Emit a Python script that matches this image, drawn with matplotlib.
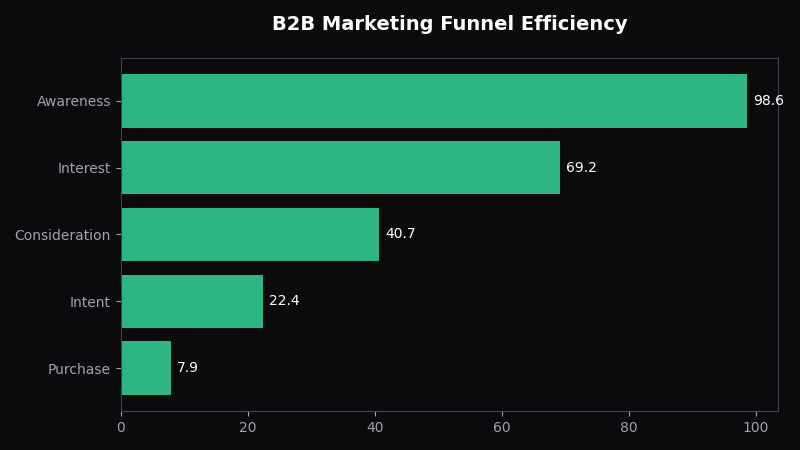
import matplotlib.pyplot as plt

stages = ['Awareness', 'Interest', 'Consideration', 'Intent', 'Purchase']
values = [98.6, 69.2, 40.7, 22.4, 7.9]

bg = '#0b0b0e'
fig, ax = plt.subplots(figsize=(8, 4.5), dpi=100)
fig.patch.set_facecolor(bg)
ax.set_facecolor(bg)

bars = ax.barh(stages, values, height=0.8, color='#2db684')
ax.invert_yaxis()

for b, v in zip(bars, values):
    ax.text(b.get_width() + 1, b.get_y() + b.get_height() / 2, f'{v:.1f}',
            va='center', ha='left', color='white', fontsize=10)

for s in ax.spines.values():
    s.set_color('#3d4350')
ax.tick_params(colors='#9ca3af', labelsize=10)
ax.set_xticks([0, 20, 40, 60, 80, 100])

ax.set_title('B2B Marketing Funnel Efficiency', color='white', fontsize=14,
             fontweight='bold', pad=20.5)

plt.subplots_adjust(left=0.151, right=0.9725, top=0.871, bottom=0.087)
plt.savefig('out.png', facecolor=bg)
